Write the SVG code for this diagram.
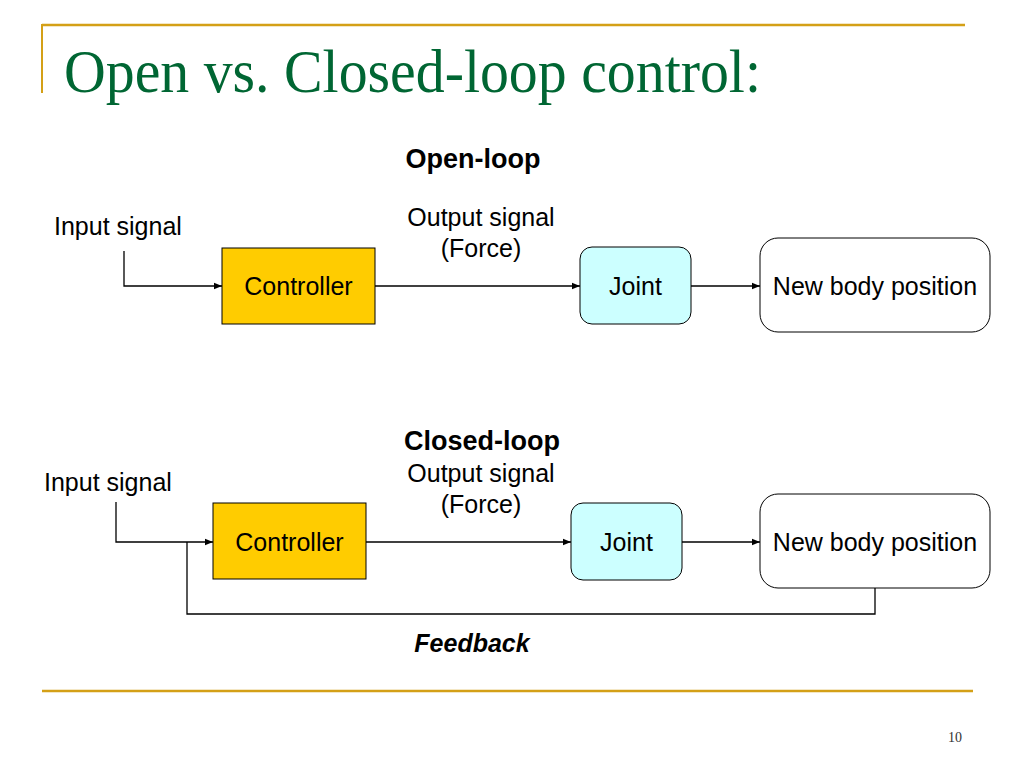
<svg xmlns="http://www.w3.org/2000/svg" width="1024" height="768" viewBox="0 0 1024 768">
<style>
.t{font-family:"Liberation Sans",Arial,sans-serif;font-size:25px;fill:#000}
.c{text-anchor:middle}
.b{font-weight:bold;font-size:27px}
.ln{fill:none;stroke:#000;stroke-width:1.3}
.box{stroke:#000;stroke-width:1}
</style>
<defs>
<marker id="ah" viewBox="0 0 10 10" refX="10" refY="5" markerWidth="8" markerHeight="8" markerUnits="userSpaceOnUse" orient="auto">
<path d="M0,1 L10,5 L0,9 z" fill="#000"/>
</marker>
</defs>
<rect width="1024" height="768" fill="#fff"/>
<g id="frame">
<line x1="42" y1="25" x2="965" y2="25" stroke="#d4a017" stroke-width="2.5"/>
<line x1="42" y1="24" x2="42" y2="93" stroke="#d4a017" stroke-width="2"/>
<line x1="42" y1="691" x2="973" y2="691" stroke="#d4a017" stroke-width="2.5"/>
<text x="64" y="92" font-family="Liberation Serif,Times New Roman,serif" font-size="62" fill="#006633" textLength="697" lengthAdjust="spacingAndGlyphs">Open vs. Closed-loop control:</text>
<text x="962" y="742" font-family="Liberation Serif,Times New Roman,serif" font-size="14" fill="#333" text-anchor="end">10</text>
</g>
<g id="labels">
<text class="t c b" x="473" y="168">Open-loop</text>
<text class="t" x="54" y="235">Input signal</text>
<text class="t c" x="481" y="226">Output signal</text>
<text class="t c" x="481" y="257">(Force)</text>
<text class="t c b" x="482" y="450">Closed-loop</text>
<text class="t" x="44" y="491">Input signal</text>
<text class="t c" x="481" y="482">Output signal</text>
<text class="t c" x="481" y="513">(Force)</text>
<text class="t c" x="472" y="652" font-weight="bold" font-style="italic">Feedback</text>
</g>
<g id="ol-controller">
<rect class="box" x="222" y="248" width="153" height="76" fill="#ffcc00"/>
<text class="t c" x="298.5" y="295">Controller</text>
</g>
<g id="ol-joint">
<rect class="box" x="580" y="247" width="111" height="77" rx="12" fill="#ccffff"/>
<text class="t c" x="635.5" y="295">Joint</text>
</g>
<g id="ol-body">
<rect class="box" x="760" y="238" width="230" height="94" rx="18" fill="#fff"/>
<text class="t c" x="875" y="295">New body position</text>
</g>
<g id="cl-controller">
<rect class="box" x="213" y="503" width="153" height="76" fill="#ffcc00"/>
<text class="t c" x="289.5" y="551">Controller</text>
</g>
<g id="cl-joint">
<rect class="box" x="571" y="503" width="111" height="77" rx="12" fill="#ccffff"/>
<text class="t c" x="626.5" y="551">Joint</text>
</g>
<g id="cl-body">
<rect class="box" x="760" y="494" width="230" height="94" rx="18" fill="#fff"/>
<text class="t c" x="875" y="551">New body position</text>
</g>
<g id="connectors">
<polyline class="ln" points="124,251 124,286 222,286" marker-end="url(#ah)"/>
<line class="ln" x1="375" y1="286" x2="580" y2="286" marker-end="url(#ah)"/>
<line class="ln" x1="691" y1="286" x2="760" y2="286" marker-end="url(#ah)"/>
<polyline class="ln" points="116,502 116,542 213,542" marker-end="url(#ah)"/>
<line class="ln" x1="366" y1="542" x2="571" y2="542" marker-end="url(#ah)"/>
<line class="ln" x1="682" y1="542" x2="760" y2="542" marker-end="url(#ah)"/>
<polyline class="ln" points="875,588 875,614 187,614 187,542"/>
</g>
</svg>
